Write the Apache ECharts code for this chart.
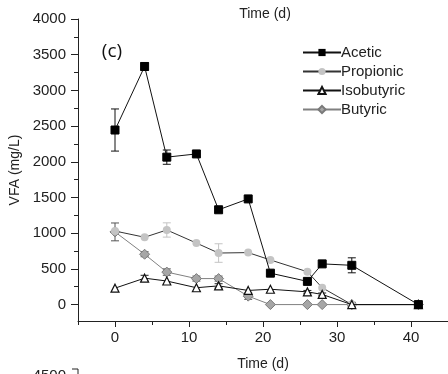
<!DOCTYPE html>
<html><head><meta charset="utf-8">
<script src="https://cdn.jsdelivr.net/npm/echarts@6/dist/echarts.min.js"></script>
<style>html,body{margin:0;padding:0;background:#fff}#c{width:448px;height:374px}</style>
</head><body><div id="c"></div>
<script>
const days = [0, 4, 7, 11, 14, 18, 21, 26, 28, 32, 41];
const acetic = [2445, 3335, 2065, 2110, 1328, 1480, 440, 325, 570, 550, 0];
const aceticErr = [295, 55, 100, 0, 0, 0, 0, 0, 0, 105, 0];
const propionic = [1030, 943, 1045, 862, 722, 728, 625, 460, 236, 0, 0];
const propionicErr = [0, 0, 100, 0, 130, 0, 0, 0, 0, 0, 0];
const isobutyric = [230, 370, 330, 236, 262, 198, 215, 178, 142, 0, 0];
const isobutyricErr = [0, 40, 0, 0, 30, 0, 0, 20, 20, 30, 0];
const butyric = [1018, 705, 455, 364, 364, 118, 0, 0, 0, 0, 0];
const butyricErr = [125, 35, 45, 35, 35, 45, 0, 0, 0, 30, 0];
const yTicks = [0, 500, 1000, 1500, 2000, 2500, 3000, 3500, 4000];
const yMinor = [-250, 250, 750, 1250, 1750, 2250, 2750, 3250, 3750];
const xTicks = [0, 10, 20, 30, 40];
const xMinor = [-5, 5, 15, 25, 35, 45];

const FONT = 'Liberation Sans';
function pts(v){ return days.map((d,i)=>[d, v[i]]); }
function errs(v,e){ return days.map((d,i)=>[d, v[i], e[i]]).filter(r=>r[2]>0); }
function errSeries(name, v, e, color){
  return {
    type:'custom', name: name+' err', data: errs(v,e), z: 3, silent:true,
    renderItem:function(params, api){
      const x=api.value(0), y=api.value(1), er=api.value(2);
      const t=api.coord([x,y+er]), b=api.coord([x,y-er]);
      const st={stroke:color, lineWidth:1};
      return {type:'group', children:[
        {type:'line', shape:{x1:t[0],y1:t[1],x2:b[0],y2:b[1]}, style:st},
        {type:'line', shape:{x1:t[0]-4,y1:t[1],x2:t[0]+4,y2:t[1]}, style:st},
        {type:'line', shape:{x1:b[0]-4,y1:b[1],x2:b[0]+4,y2:b[1]}, style:st}
      ]};
    }
  };
}
const chart = echarts.init(document.getElementById('c'));
const axisTxt = {fontFamily:FONT, fontSize:15, color:'#222', formatter:(v)=>String(v)};
chart.setOption({
  animation:false,
  textStyle:{fontFamily:FONT},
  grid:{left:78, top:19, right:0, bottom:53, containLabel:false, outerBoundsMode:'none'},
  xAxis:[{
    type:'value', min:-5, max:45,
    name:'Time (d)', nameLocation:'middle', nameGap:36,
    nameTextStyle:{fontFamily:FONT, fontSize:14, color:'#222'},
    axisLine:{show:true, onZero:false, lineStyle:{color:'#222', width:1}},
    axisTick:{show:true, length:6, inside:false, customValues:xTicks, lineStyle:{color:'#222'}},
    axisLabel:{customValues:xTicks, margin:9, ...axisTxt},
    splitLine:{show:false}
  },{
    type:'value', min:-5, max:45, position:'bottom',
    axisLine:{show:false, onZero:false},
    axisTick:{show:true, length:4, customValues:xMinor, lineStyle:{color:'#222'}},
    axisLabel:{show:false}, splitLine:{show:false}
  }],
  yAxis:[{
    type:'value', min:-230, max:4000,
    name:'VFA (mg/L)', nameLocation:'middle', nameGap:51,
    nameTextStyle:{fontFamily:FONT, fontSize:14, color:'#222'},
    axisLine:{show:true, onZero:false, lineStyle:{color:'#222', width:1}},
    axisTick:{show:true, length:7, customValues:yTicks, lineStyle:{color:'#222'}},
    axisLabel:{customValues:yTicks, margin:12, ...axisTxt},
    splitLine:{show:false}
  },{
    type:'value', min:-230, max:4000, position:'left',
    axisLine:{show:false, onZero:false},
    axisTick:{show:true, length:4, customValues:yMinor, lineStyle:{color:'#222'}},
    axisLabel:{show:false}, splitLine:{show:false}
  }],
  legend:{
    orient:'vertical', left:302, top:45, padding:0, itemWidth:38, itemHeight:9, itemGap:4,
    data:['Acetic','Propionic','Isobutyric','Butyric'],
    textStyle:{fontFamily:FONT, fontSize:15, color:'#222', padding:[0,0,0,-5]},
    inactiveColor:'#ccc'
  },
  graphic:[
    {type:'text', style:{text:'Time (d)', x:265, y:14, align:'center', verticalAlign:'middle', fontFamily:FONT, fontSize:14, fill:'#222'}},
    {type:'text', style:{text:'(c)', x:112, y:52, align:'center', verticalAlign:'middle', fontFamily:'Open Sans', fontSize:19, fill:'#111'}},
    {type:'text', style:{text:'4500', x:66, y:376, align:'right', verticalAlign:'middle', fontFamily:FONT, fontSize:15, fill:'#222'}},
    {type:'line', shape:{x1:72, y1:369, x2:78, y2:369}, style:{stroke:'#222', lineWidth:1}},
    {type:'line', shape:{x1:78, y1:369, x2:78, y2:374}, style:{stroke:'#222', lineWidth:1}}
  ],
  series:[
    errSeries('Acetic', acetic, aceticErr, '#111'),
    errSeries('Propionic', propionic, propionicErr, '#c4c4c4'),
    errSeries('Isobutyric', isobutyric, isobutyricErr, '#222'),
    errSeries('Butyric', butyric, butyricErr, '#555'),
    {type:'line', name:'Butyric', data:pts(butyric), symbol:'diamond', symbolSize:10, z:4,
     lineStyle:{color:'#808080', width:1}, itemStyle:{color:'#a6a6a6', borderColor:'#7a7a7a', borderWidth:1}},
    {type:'line', name:'Isobutyric', data:pts(isobutyric), symbol:'triangle', symbolSize:8, z:5,
     lineStyle:{color:'#111', width:1}, itemStyle:{color:'#fff', borderColor:'#111', borderWidth:1.2}},
    {type:'line', name:'Propionic', data:pts(propionic), symbol:'circle', symbolSize:8, z:4,
     lineStyle:{color:'#333', width:1}, itemStyle:{color:'#c4c4c4', borderColor:'#c4c4c4', borderWidth:0}},
    {type:'line', name:'Acetic', data:pts(acetic), symbol:'rect', symbolSize:8, z:6,
     lineStyle:{color:'#111', width:1}, itemStyle:{color:'#000', borderColor:'#000'}}
  ]
});
</script></body></html>
